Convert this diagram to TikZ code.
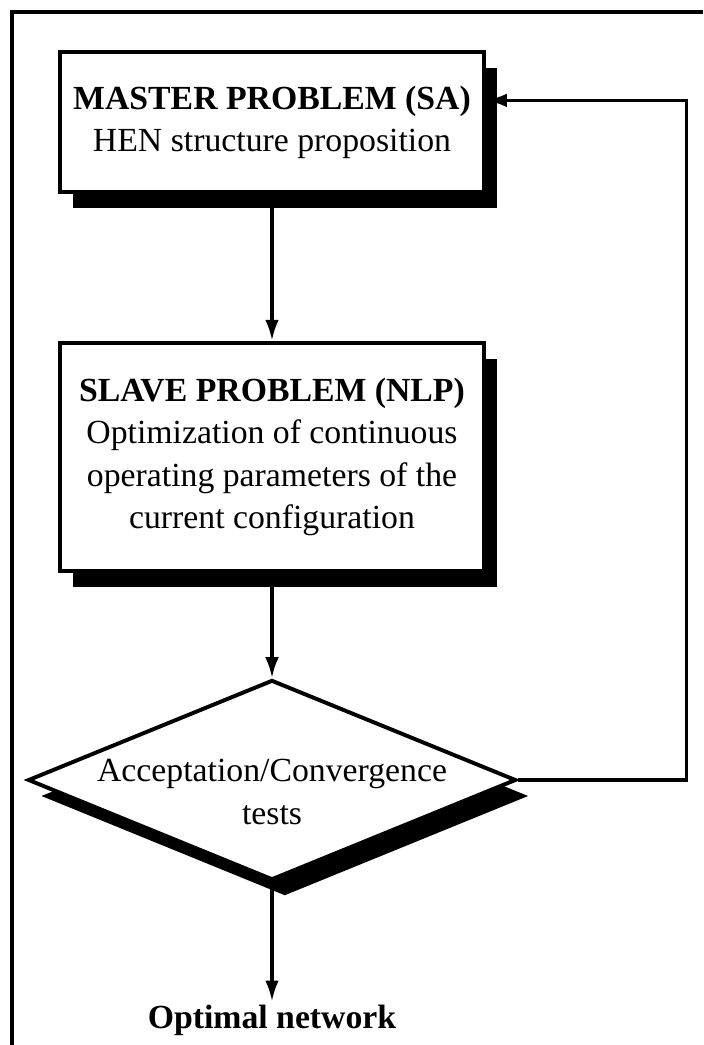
\documentclass[tikz,border=0pt]{standalone}
\usepackage{fontspec}
\setmainfont{Liberation Serif}
\usetikzlibrary{arrows.meta,calc,positioning,shapes.geometric,shadows}

\begin{document}
\begin{tikzpicture}[
    x=0.0125cm,
    y=-0.0125cm,
    >={Latex[length=2.6mm,width=1.7mm]},
    hard shadow/.style={drop shadow={shadow xshift=0.16cm, shadow yshift=-0.2cm, fill=black, opacity=1}},
    block/.style={draw, line width=1.4pt, fill=white, align=center, minimum width=5.3cm, inner sep=2pt, font=\fontsize{12}{15}\selectfont, hard shadow},
    test/.style={draw, diamond, line width=1.4pt, fill=white, inner sep=0pt, minimum width=6.1cm, minimum height=2.5cm, hard shadow},
    note/.style={align=center, font=\fontsize{12}{15}\selectfont},
    line/.style={->, line width=1.1pt}
]
\useasboundingbox (0,0) rectangle (703,1045);

% frame
\draw[line width=1.1pt] (12,1045) -- (12,12) -- (703,12);

\node[block, minimum height=1.75cm] (master) at (272,122) {\textbf{MASTER PROBLEM (SA)}\\HEN structure proposition};
\node[block, minimum height=2.86cm] (slave) at (272,457) {\textbf{SLAVE PROBLEM (NLP)}\\Optimization of continuous\\operating parameters of the\\current configuration};
\node[test, label={[note, yshift=-0.15cm]center:Acceptation/Convergence\\tests}] (tests) at (272,780) {};
\node[note, inner sep=1pt] (optimal) at (272,1020) {\textbf{Optimal network}};

\draw[line] (master) -- (slave);
\draw[line] (slave) -- (tests);
\draw[line] (tests.south) -- (optimal.north);
\draw[line] (tests.east) -- ++(168,0) |- ([yshift=0.27cm]master.east);
\end{tikzpicture}
\end{document}
